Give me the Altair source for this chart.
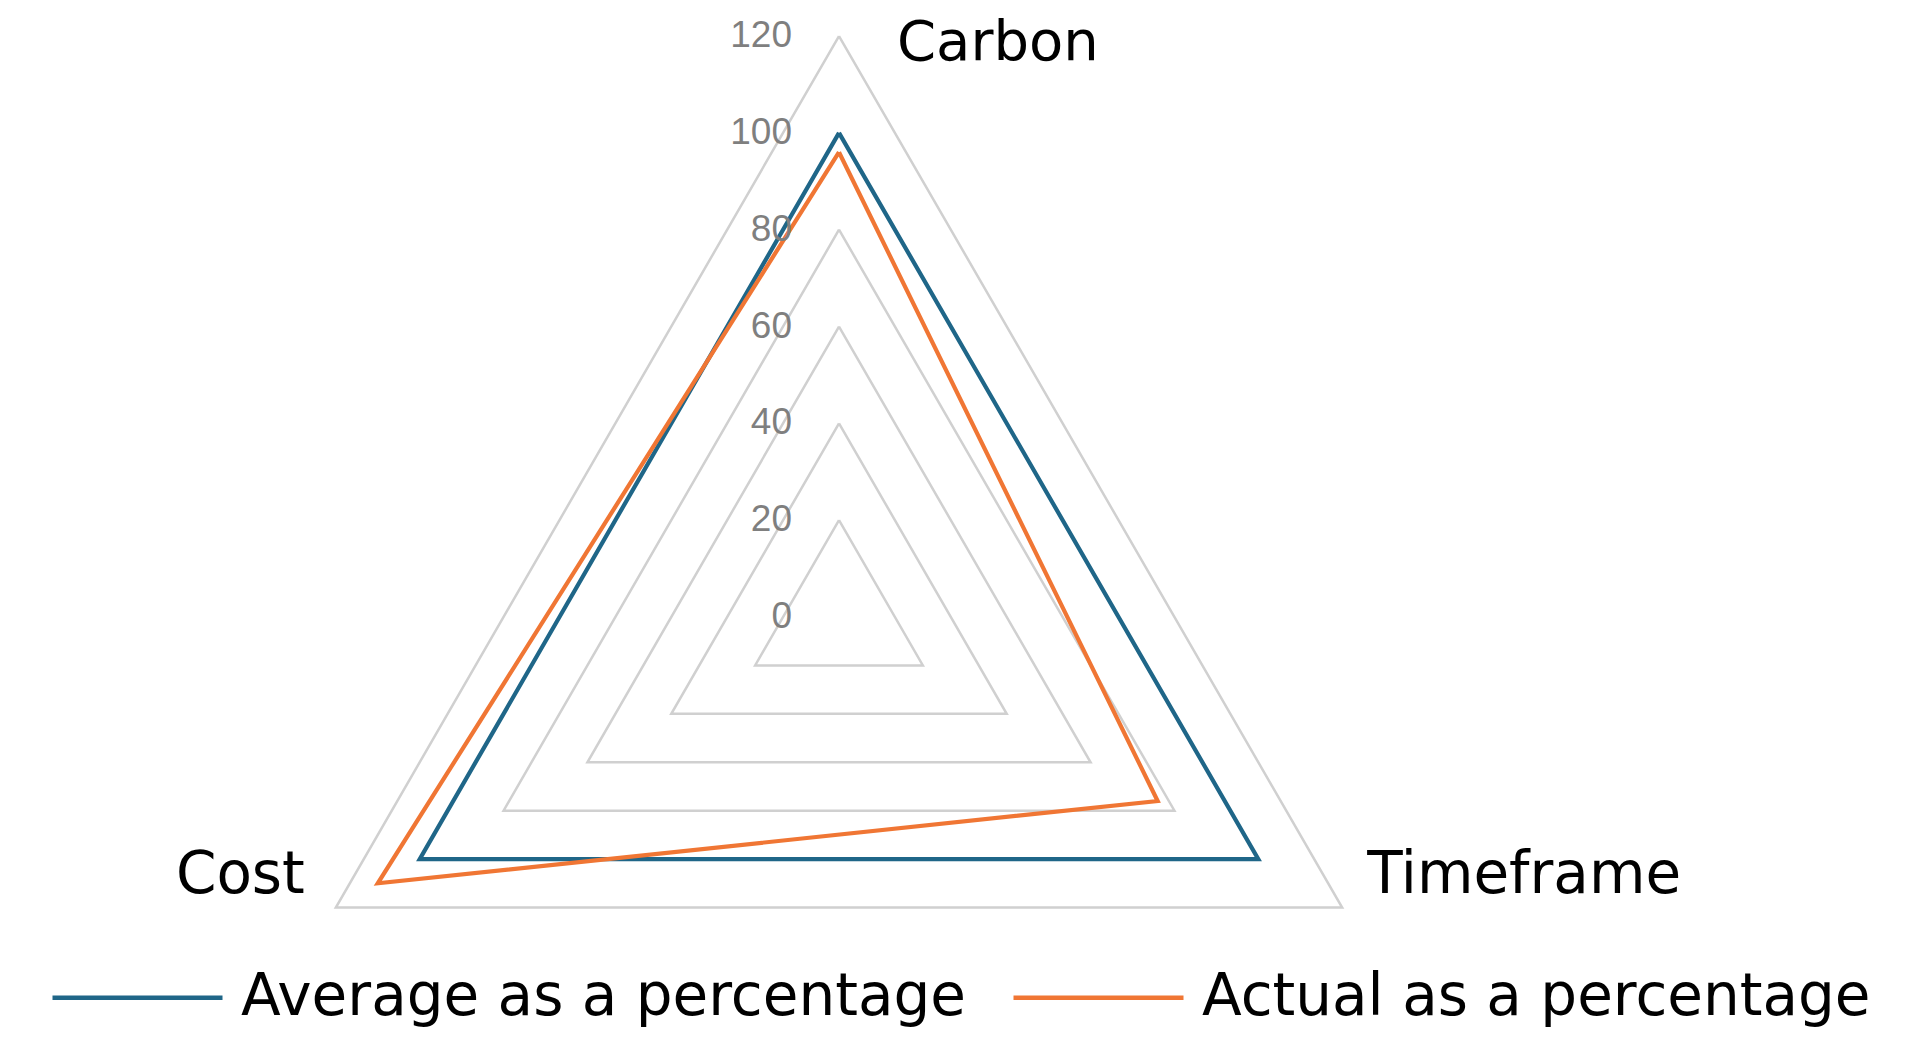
import altair as alt
import pandas as pd

# ---- data ----
categories = ["Carbon", "Timeframe", "Cost"]
series_names = ["Average as a percentage", "Actual as a percentage"]
average_values = [100, 100, 100]
actual_values = [96, 76, 110]
grid_levels = [20, 40, 60, 80, 100, 120]
tick_values = [0, 20, 40, 60, 80, 100, 120]

# ---- styling / layout ----
series_colors = ["#1F6688", "#F07634"]
grid_color = "#D0D0D0"
tick_color = "#7F7F7F"
text_font = "Century Gothic, DejaVu Sans"
tick_font = "Liberation Sans, Arial"

W, H = 1880, 1020
CX, CY = 831, 609          # centre of the radar in plot coordinates
RMAX = 120
K = 581 / RMAX             # pixels per unit
x_dom = [-CX / K, (W - CX) / K]
y_dom = [-(H - CY) / K, CY / K]

n = len(categories)

series_rows = []
for name, vals in zip(series_names, [average_values, actual_values]):
    for i in range(n + 1):
        series_rows.append({"series": name, "idx": i,
                            "category": categories[i % n], "value": vals[i % n]})
series_df = pd.DataFrame(series_rows)

grid_df = pd.DataFrame([{"level": lv, "idx": i, "value": lv}
                        for lv in grid_levels for i in range(n + 1)])
tick_df = pd.DataFrame([{"idx": 0, "value": v, "label": str(v)} for v in tick_values])
cat_df = pd.DataFrame([{"idx": i, "value": RMAX, "category": c}
                       for i, c in enumerate(categories)])


def polar(ch):
    return ch.transform_calculate(
        ang=f"datum.idx * 2 * PI / {n}"
    ).transform_calculate(
        px="datum.value * sin(datum.ang)",
        py="datum.value * cos(datum.ang)",
    )


X = alt.X("px:Q", scale=alt.Scale(domain=x_dom, nice=False, zero=False), axis=None)
Y = alt.Y("py:Q", scale=alt.Scale(domain=y_dom, nice=False, zero=False), axis=None)

grid = polar(alt.Chart(grid_df)).mark_line(
    color=grid_color, strokeWidth=2.5, strokeJoin="miter"
).encode(x=X, y=Y, detail="level:N", order=alt.Order("idx:Q"))

lines = polar(alt.Chart(series_df)).mark_line(
    strokeWidth=4.2, strokeJoin="miter"
).encode(
    x=X, y=Y,
    order=alt.Order("idx:Q"),
    color=alt.Color(
        "series:N",
        scale=alt.Scale(domain=series_names, range=series_colors),
        legend=alt.Legend(
            orient="none", legendX=42, legendY=902, direction="horizontal",
            title=None, symbolType="stroke", symbolSize=28900,
            symbolStrokeWidth=4.5, labelFontSize=58, labelFont=text_font,
            labelColor="black", labelOffset=16, columnPadding=38,
            padding=0, labelLimit=2000,
        ),
    ),
)

ticks = polar(alt.Chart(tick_df)).mark_text(
    align="right", baseline="middle", dx=-47, fontSize=37,
    font=tick_font, color=tick_color,
).encode(x=X, y=Y, text="label:N")

label_specs = [
    ("Carbon", "left", 58, 24, 56),
    ("Timeframe", "left", 25, -15, 58),
    ("Cost", "right", -31, -15, 58),
]
cat_layers = []
for cat, align, dx, dy, fs in label_specs:
    cat_layers.append(
        polar(alt.Chart(cat_df)).transform_filter(
            alt.datum.category == cat
        ).mark_text(
            align=align, baseline="alphabetic", dx=dx, dy=dy,
            fontSize=fs, font=text_font, color="black",
        ).encode(x=X, y=Y, text="category:N")
    )

chart = alt.layer(grid, lines, ticks, *cat_layers).properties(
    width=W, height=H, padding=0,
    autosize=alt.AutoSizeParams(type="none"),
    background="white",
).configure_view(stroke=None)

chart.save("out.html", embed_options={"renderer": "svg", "actions": False})
